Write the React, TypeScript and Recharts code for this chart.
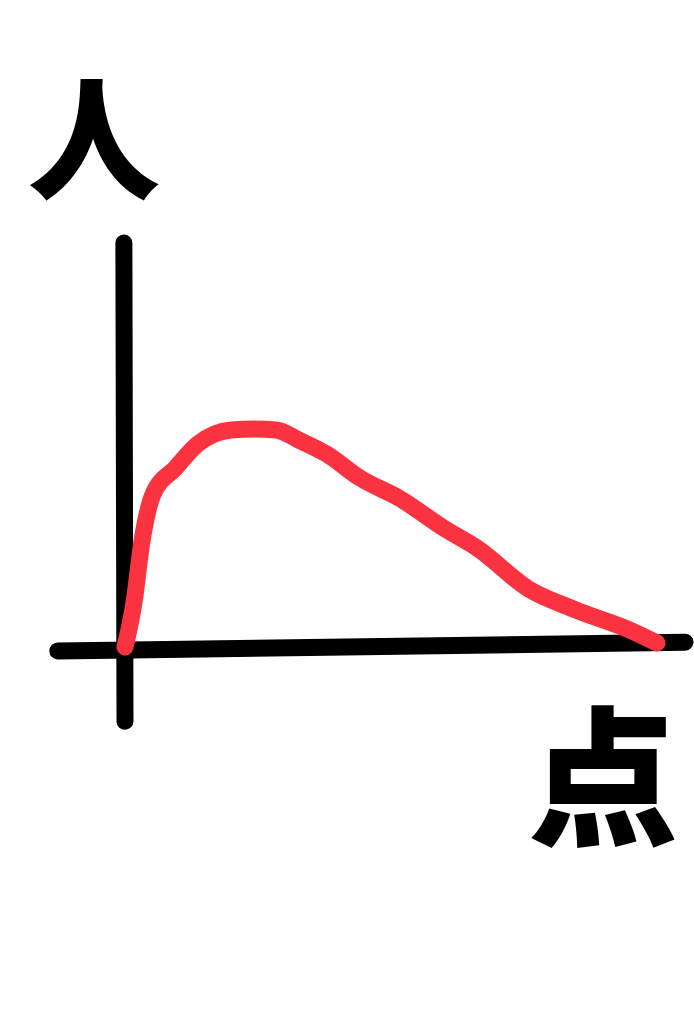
import { LineChart, Line, XAxis, YAxis, ReferenceLine } from 'recharts'

// score (x) vs number of people (y)
const scores = [0, 1.6, 3, 5, 9, 13, 19, 23, 27, 31, 36, 42, 49, 57, 63, 72, 80, 90.5, 95]
const people = [0, 11, 26, 38, 44.5, 50.5, 54, 54.2, 54, 51.5, 48, 42, 37, 29.5, 24.5, 14.5, 9.5, 4, 1]

const data = scores.map((s, i) => ({ score: s, people: people[i] }))

const INK = '#000'
const RED = '#fb3340'

export default function App() {
  return (
    <div style={{ position: 'absolute', left: 0, top: 0, width: 694, height: 1024, background: '#fff' }}>
      <LineChart
        width={694}
        height={1024}
        data={data}
        margin={{ top: 245, right: 9, bottom: 377, left: 125 }}
      >
        <XAxis type="number" dataKey="score" domain={[0, 100]} hide />
        <YAxis type="number" domain={[0, 100]} hide />
        {/* hand drawn axes, longer than the plot area */}
        <ReferenceLine
          segment={[{ x: -0.2, y: 100.5 }, { x: 0, y: -18.5 }]}
          stroke={INK}
          strokeWidth={17}
          strokeLinecap="round"
          ifOverflow="visible"
        />
        <ReferenceLine
          segment={[{ x: -12, y: -1 }, { x: 100, y: 1.2 }]}
          stroke={INK}
          strokeWidth={17}
          strokeLinecap="round"
          ifOverflow="visible"
        />
        <Line
          type="monotone"
          dataKey="people"
          stroke={RED}
          strokeWidth={17}
          strokeLinecap="round"
          strokeLinejoin="round"
          dot={false}
          isAnimationActive={false}
        />
      </LineChart>
      <div
        style={{
          position: 'absolute', left: 28, top: 66, fontSize: 132, lineHeight: 1,
          fontFamily: '"Noto Sans CJK JP", sans-serif', fontWeight: 900, color: INK,
        }}
      >
        人
      </div>
      <div
        style={{
          position: 'absolute', left: 528, top: 694, fontSize: 150, lineHeight: 1,
          fontFamily: '"Noto Sans CJK JP", sans-serif', fontWeight: 900, color: INK,
        }}
      >
        点
      </div>
    </div>
  )
}
